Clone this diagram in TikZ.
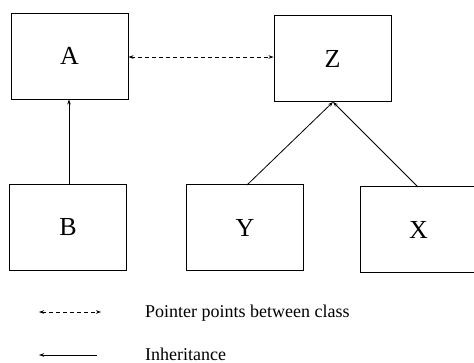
\documentclass[tikz,border=0pt]{standalone}
\usepackage{fontspec}
\setmainfont{Liberation Serif}
\usetikzlibrary{arrows.meta}
\begin{document}
\begin{tikzpicture}[x=1pt,y=-1pt,
  cls/.style={draw,line width=0.9pt,minimum width=117pt,minimum height=86pt,inner sep=0pt,font=\fontsize{26}{28}\selectfont},
  tip/.style={-{Stealth[length=5pt,width=3.5pt]}},
  dtip/.style={{Stealth[length=5pt,width=3.5pt]}-{Stealth[length=5pt,width=3.5pt]}},
  ptr/.style={dash pattern=on 4pt off 3pt,line width=0.8pt},
  lab/.style={anchor=base west,inner sep=0pt,font=\fontsize{18}{20}\selectfont}]
\useasboundingbox (0,0) rectangle (474,363);
\node[cls] (A) at (69.5,56) {A};
\node[cls] (Z) at (332.5,58.5) {Z};
\node[cls] (B) at (68,227.5) {B};
\node[cls] (Y) at (245,227.5) {Y};
\node[cls] (X) at (418.5,229.5) {X};
\draw[dtip,ptr] (A.east |- 0,57) -- (Z.west |- 0,57);
\draw[tip,line width=0.9pt] (B.north -| 69,0) -- (A.south -| 69,0);
\coordinate (zt) at (333,102);
\coordinate (yt) at (247,185);
\coordinate (xt) at (418,187);
\draw[tip,line width=0.8pt] (yt) -- (zt);
\draw[tip,line width=0.8pt] (xt) -- (zt);
\coordinate (l1a) at (39,312);
\coordinate (l1b) at (101,312);
\coordinate (l2a) at (39,355);
\coordinate (l2b) at (97,355);
\draw[dtip,ptr] (l1a) -- (l1b);
\draw[{Stealth[length=5pt,width=3.5pt]}-,line width=0.9pt] (l2a) -- (l2b);
\node[lab] (t1) at (145,318) {Pointer points between class};
\node[lab] (t2) at (145,360) {Inheritance};
\end{tikzpicture}
\end{document}
